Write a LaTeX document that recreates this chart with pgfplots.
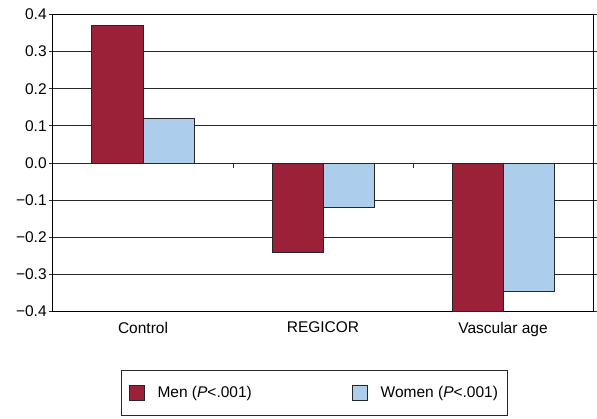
\documentclass[border=0pt]{standalone}
\usepackage{pgfplots}
\pgfplotsset{compat=1.18}
\usepackage{fontspec}
\setmainfont{Liberation Sans}
\definecolor{menred}{RGB}{155,33,56}
\definecolor{womenblue}{RGB}{172,205,235}
\definecolor{gridc}{RGB}{40,40,40}
\begin{document}
\fontsize{15.5}{18}\selectfont
\begin{tikzpicture}
\path[use as bounding box] (0,0) rectangle (597pt,418pt);
\begin{axis}[
  at={(53pt,106.5pt)}, anchor=south west,
  scale only axis, width=540pt, height=297pt,
  ybar=0pt, bar width=51pt,
  xmin=-0.5, xmax=2.5, ymin=-0.4, ymax=0.4,
  xtick={0,1,2}, xticklabels={Control,REGICOR,Vascular age},
  major x tick style={draw=none},
  extra x ticks={0.5,1.5}, extra x tick labels={},
  extra x tick style={major tick length=5pt, tick align=outside, tick style={draw=gridc, line width=1pt}, grid=none},
  x tick label style={yshift=-1pt},
  ytick={-0.4,-0.3,...,0.4},
  yticklabels={−0.4,−0.3,−0.2,−0.1,0.0,0.1,0.2,0.3,0.4},
  y tick label style={xshift=3pt},
  ymajorgrids, grid style={draw=gridc, line width=1pt},
  tick align=outside, major tick length=4pt,
  y tick style={draw=gridc, line width=1pt},
  axis line style={line width=1pt, draw=black},
  tick label style={font=\fontsize{15.5}{18}\selectfont},
  legend columns=2,
  legend style={at={(0.484,-0.274)}, anchor=center, draw=gridc, line width=0.8pt,
    inner xsep=7pt, inner ysep=14pt, font=\fontsize{15.5}{18}\selectfont,
    /tikz/every odd column/.append style={column sep=11pt},
    /tikz/every even column/.append style={column sep=98pt}},
  legend image code/.code={\draw[#1, line width=0.8pt] (0pt,-7.5pt) rectangle (15pt,7.5pt);},
  legend cell align=left,
]
\addplot[fill=menred, draw=black!85, line width=1pt] coordinates {(0,0.371) (1,-0.242) (2,-0.400)};
\addplot[fill=womenblue, draw=black!85, line width=1pt] coordinates {(0,0.119) (1,-0.121) (2,-0.346)};
\draw[gridc, line width=1pt] (axis cs:0.5,0) -- ([yshift=-5pt]axis cs:0.5,0);
\draw[gridc, line width=1pt] (axis cs:1.5,0) -- ([yshift=-5pt]axis cs:1.5,0);
\legend{Men (\textit{P}<.001), Women (\textit{P}<.001)}
\end{axis}
\end{tikzpicture}
\end{document}
